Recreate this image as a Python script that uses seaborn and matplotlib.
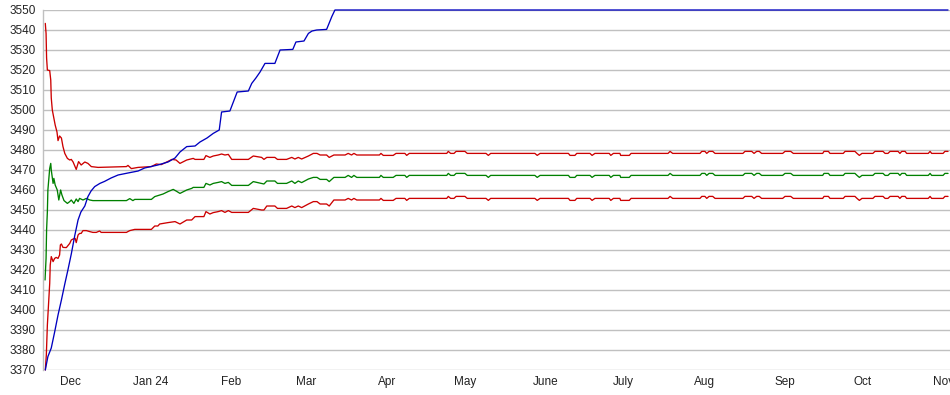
import matplotlib
matplotlib.use("Agg")
import matplotlib.pyplot as plt
import seaborn as sns
import pandas as pd
import numpy as np

# ---------------- data (day offsets from start date) ----------------
start_date = "2023-11-21"

month_starts = ["2023-12-01", "2024-01-01", "2024-02-01", "2024-03-01", "2024-04-01",
                "2024-05-01", "2024-06-01", "2024-07-01", "2024-08-01", "2024-09-01",
                "2024-10-01", "2024-11-01"]
month_labels = ["Dec", "Jan 24", "Feb", "Mar", "Apr", "May", "June", "July", "Aug",
                "Sep", "Oct", "Nov"]
y_ticks = [3370, 3380, 3390, 3400, 3410, 3420, 3430, 3440, 3450, 3460,
           3470, 3480, 3490, 3500, 3510, 3520, 3530, 3540, 3550]

blue_days = [0.5, 1.5, 2.8, 4.1, 5.4, 6.7, 8.0, 9.2, 10.5, 11.8, 13.1, 14.2, 15.7, 16.9,
             18.1, 19.5, 21.5, 23.3, 25.8, 28.5, 32.3, 36.2, 38.7, 43.8, 47.7, 50.4, 52.3,
             54.9, 58.1, 60.0, 62.7, 65.1, 67.4, 68.3, 71.5, 74.3, 78.6, 79.9, 81.5, 83.1,
             85.0, 88.8, 90.8, 95.7, 96.9, 100.0, 101.7, 103.1, 104.9, 108.7, 110.7, 111.9,
             347.7]
blue_vals = [3370, 3376.7, 3381, 3389, 3397.5, 3405, 3413, 3420, 3428, 3437, 3445, 3449,
             3452, 3456.7, 3459.5, 3461.7, 3463.3, 3464.3, 3466, 3467.5, 3468.5, 3469.5,
             3471, 3472.5, 3474, 3476, 3479, 3481.7, 3482, 3484, 3486, 3488.3, 3490, 3499,
             3499.5, 3509, 3509.5, 3513.3, 3516, 3519, 3523.3, 3523.3, 3530, 3530.3, 3534,
             3534.5, 3538.3, 3539.5, 3540, 3540.3, 3546.7, 3550, 3550]

upper_early_days = [0.5, 0.8, 1.0, 1.3, 2.2, 2.6, 2.8, 3.2, 3.7, 4.3, 5.0, 5.4, 6.0, 6.7,
                    7.3, 8.0, 9.0, 9.9, 10.5, 11.2, 12.4, 13.3, 14.3, 15.7, 16.9, 18.2,
                    20.8, 31.7, 32.3, 33.6, 36.2, 41.3, 43.2, 45.1, 47.7, 49.2, 50.8, 52.3,
                    54.9, 57.4, 58.1, 61.5]
upper_early_vals = [3543.3, 3538.3, 3526, 3520, 3519.7, 3515, 3506, 3500, 3496.7, 3492.5,
                    3489, 3484.7, 3487, 3486, 3481.7, 3478.3, 3475.8, 3475, 3475.3, 3474,
                    3470.3, 3474.2, 3472.5, 3474, 3473.3, 3471.7, 3471.3, 3471.7, 3472.3,
                    3470.7, 3471.3, 3471.7, 3473, 3472.7, 3474.3, 3475.3, 3475, 3473.3,
                    3475, 3475.8, 3475.3, 3475.3]

green_early_days = [0.4, 0.8, 1.0, 1.3, 1.5, 2.2, 2.6, 2.8, 3.5, 3.8, 4.3, 5.1, 5.7, 6.4,
                    6.9, 7.7, 9.0, 9.9, 10.5, 11.5, 12.4, 13.1, 13.7, 15.0, 16.3, 17.6,
                    18.8, 31.7, 33.0, 34.2, 34.9, 41.3, 42.6, 44.5, 45.8, 47.7, 49.7, 50.8,
                    52.3, 54.9, 56.8, 57.4, 61.5]
green_early_vals = [3415, 3425.8, 3440, 3449.2, 3460, 3470.8, 3473.3, 3470, 3463.3, 3465.8,
                    3462.5, 3460, 3455, 3460, 3457.5, 3454.7, 3453.3, 3454.2, 3455, 3453.3,
                    3455.5, 3454.2, 3455.8, 3455, 3455.8, 3455, 3454.7, 3454.7, 3455.7,
                    3454.7, 3455.3, 3455.3, 3456.7, 3457.5, 3458, 3459.2, 3460.3, 3459.5,
                    3458.3, 3460, 3460.8, 3461.3, 3461.3]

lower_early_days = [0.5, 0.9, 1.3, 1.8, 2.2, 2.4, 2.8, 3.5, 4.1, 4.7, 5.4, 6.0, 6.3, 6.7,
                    7.3, 8.6, 9.9, 10.5, 11.2, 12.0, 12.4, 13.1, 13.7, 14.3, 15.0, 16.3,
                    17.6, 18.8, 20.1, 21.4, 22.0, 31.7, 33.0, 34.9, 41.3, 42.6, 43.8, 44.5,
                    45.8, 47.7, 50.4, 52.3, 54.9, 56.8, 58.1, 61.5]
lower_early_vals = [3370, 3377.5, 3392.5, 3404, 3413.3, 3422.5, 3426.7, 3424.2, 3425.8,
                    3426.3, 3425.8, 3427.5, 3432.5, 3433, 3431.3, 3431.2, 3433.3, 3435,
                    3435.5, 3435.8, 3433.7, 3437.5, 3438.3, 3438.3, 3439.7, 3439.7, 3439.2,
                    3438.8, 3438.8, 3439.5, 3438.8, 3438.8, 3439.7, 3440.3, 3440.3, 3442,
                    3442, 3443, 3443.3, 3443.7, 3444.2, 3443, 3445, 3445, 3446.7, 3446.7]

late_days = [62.3, 63.8, 65.1, 67.0, 68.3, 69.6, 70.9, 72.2, 78.6, 80.5, 83.7, 84.6, 85.7,
             88.8, 89.8, 93.3, 95.3, 96.5, 97.8, 99.1, 101.7, 103.6, 105.0, 106.2, 108.7,
             109.7, 111.5, 115.8, 117.0, 118.3, 119.2, 120.3, 129.0,
             129.6, 130.5, 134.3, 135.4, 138.8, 139.5, 140.5, 154.9, 155.5, 156.4,
             157.7, 158.5, 161.9, 162.8, 170.0, 170.9, 171.8, 188.8, 189.7, 190.8,
             201.7, 202.3, 204.2, 204.9, 210.0, 210.8, 211.9, 217.4, 218.0, 219.0,
             221.5, 221.8, 225.1, 225.8, 240.0, 240.8, 241.8, 252.3, 253.0, 254.2,
             254.9, 255.8, 257.2, 258.1, 268.8, 269.6, 272.2, 273.1, 274.1, 275.1,
             276.0, 284.1, 285.0, 287.2, 288.2, 299.5, 300.0, 301.7, 302.3, 307.4,
             308.1, 311.9, 312.7, 313.6, 314.6, 318.8, 319.6, 322.7, 323.5, 324.6,
             325.4, 328.5, 329.2, 329.9, 331.2, 331.8, 340.1, 340.8, 341.4, 345.8,
             346.5, 347.7]

upper_late_vals = [3477.2, 3476.3, 3477.0, 3477.5, 3478.0, 3477.5, 3477.8, 3475.3, 3475.3,
                   3477.0, 3476.3, 3475.3, 3476.3, 3476.3, 3475.3, 3475.3, 3476.3, 3475.5,
                   3476.3, 3475.5, 3477.0, 3478.3, 3478.3, 3477.5, 3477.5, 3476.3, 3477.5,
                   3477.5, 3478.3, 3477.5, 3478.3, 3477.5, 3477.5,
                   3478.3, 3477.3, 3477.3, 3478.3, 3478.3, 3477.3, 3478.3, 3478.3, 3479.3, 3478.3,
                   3478.3, 3479.3, 3479.3, 3478.3, 3478.3, 3477.3, 3478.3, 3478.3, 3477.3, 3478.3,
                   3478.3, 3477.3, 3477.3, 3478.3, 3478.3, 3477.3, 3478.3, 3478.3, 3477.3, 3478.3,
                   3478.3, 3477.3, 3477.3, 3478.3, 3478.3, 3479.3, 3478.3, 3478.3, 3479.3, 3479.3,
                   3478.3, 3479.3, 3479.3, 3478.3, 3478.3, 3479.3, 3479.3, 3478.3, 3479.3, 3479.3,
                   3478.3, 3478.3, 3479.3, 3479.3, 3478.3, 3478.3, 3479.3, 3479.3, 3478.3, 3478.3,
                   3479.3, 3479.3, 3478.3, 3477.3, 3478.3, 3478.3, 3479.3, 3479.3, 3478.3, 3478.3,
                   3479.3, 3479.3, 3478.3, 3479.3, 3479.3, 3478.3, 3478.3, 3479.3, 3478.3, 3478.3,
                   3479.3, 3479.3]

green_late_vals = [3463.3, 3462.5, 3463.3, 3463.8, 3464.2, 3463.3, 3463.8, 3462.3, 3462.3,
                   3464.2, 3463.3, 3463.0, 3464.5, 3464.5, 3463.3, 3463.3, 3464.5, 3463.3,
                   3464.5, 3463.7, 3465.5, 3466.3, 3466.3, 3465.3, 3465.3, 3464.2, 3466.3,
                   3466.3, 3467.3, 3466.3, 3467.3, 3466.3, 3466.3,
                   3467.3, 3466.3, 3466.3, 3467.3, 3467.3, 3466.3, 3467.3, 3467.3, 3468.3, 3467.3,
                   3467.3, 3468.3, 3468.3, 3467.3, 3467.3, 3466.3, 3467.3, 3467.3, 3466.3, 3467.3,
                   3467.3, 3466.3, 3466.3, 3467.3, 3467.3, 3466.3, 3467.3, 3467.3, 3466.3, 3467.3,
                   3467.3, 3466.3, 3466.3, 3467.3, 3467.3, 3468.3, 3467.3, 3467.3, 3468.3, 3468.3,
                   3467.3, 3468.3, 3468.3, 3467.3, 3467.3, 3468.3, 3468.3, 3467.3, 3468.3, 3468.3,
                   3467.3, 3467.3, 3468.3, 3468.3, 3467.3, 3467.3, 3468.3, 3468.3, 3467.3, 3467.3,
                   3468.3, 3468.3, 3467.3, 3466.3, 3467.3, 3467.3, 3468.3, 3468.3, 3467.3, 3467.3,
                   3468.3, 3468.3, 3467.3, 3468.3, 3468.3, 3467.3, 3467.3, 3468.3, 3467.3, 3467.3,
                   3468.3, 3468.3]

lower_late_vals = [3449.2, 3448.0, 3448.7, 3449.2, 3449.7, 3448.8, 3449.7, 3448.8, 3448.8,
                   3450.8, 3450.0, 3450.0, 3452.0, 3452.0, 3450.8, 3450.8, 3452.0, 3451.2,
                   3452.0, 3451.2, 3453.0, 3454.2, 3454.2, 3453.0, 3453.0, 3452.0, 3455.0,
                   3455.0, 3455.8, 3455.0, 3455.8, 3455.0, 3455.0,
                   3455.8, 3454.8, 3454.8, 3455.8, 3455.8, 3454.8, 3455.8, 3455.8, 3456.8, 3455.8,
                   3455.8, 3456.8, 3456.8, 3455.8, 3455.8, 3454.8, 3455.8, 3455.8, 3454.8, 3455.8,
                   3455.8, 3454.8, 3454.8, 3455.8, 3455.8, 3454.8, 3455.8, 3455.8, 3454.8, 3455.8,
                   3455.8, 3454.8, 3454.8, 3455.8, 3455.8, 3456.8, 3455.8, 3455.8, 3456.8, 3456.8,
                   3455.8, 3456.8, 3456.8, 3455.8, 3455.8, 3456.8, 3456.8, 3455.8, 3456.8, 3456.8,
                   3455.8, 3455.8, 3456.8, 3456.8, 3455.8, 3455.8, 3456.8, 3456.8, 3455.8, 3455.8,
                   3456.8, 3456.8, 3455.8, 3454.8, 3455.8, 3455.8, 3456.8, 3456.8, 3455.8, 3455.8,
                   3456.8, 3456.8, 3455.8, 3456.8, 3456.8, 3455.8, 3455.8, 3456.8, 3455.8, 3455.8,
                   3456.8, 3456.8]

# ---------------- figure ----------------
sns.set_style("white")
plt.rcParams["font.family"] = ["Liberation Sans", "DejaVu Sans"]

W, H = 950, 395
fig = plt.figure(figsize=(W / 100, H / 100), dpi=100)
ax = fig.add_axes([43 / W, (H - 370) / H, 907 / W, 360 / H])

base = pd.Timestamp(start_date)


def to_dates(days):
    return base + pd.to_timedelta(np.asarray(days, dtype=float), unit="D")


series = [
    ("upper", upper_early_days + late_days, upper_early_vals + upper_late_vals, "#cc0000"),
    ("lower", lower_early_days + late_days, lower_early_vals + lower_late_vals, "#cc0000"),
    ("middle", green_early_days + late_days, green_early_vals + green_late_vals, "#008000"),
    ("blue", blue_days, blue_vals, "#0000c0"),
]

for name, d, v, c in series:
    df = pd.DataFrame({"date": to_dates(d), "value": v})
    sns.lineplot(data=df, x="date", y="value", ax=ax, color=c, linewidth=0.95,
                 estimator=None, sort=False, legend=False)

for line in ax.get_lines():
    line.set_clip_on(False)

ax.set_xlim(base + pd.Timedelta(days=-0.38), base + pd.Timedelta(days=348.46))
ax.set_ylim(3370, 3550)
ax.set_yticks(y_ticks)
ax.set_yticklabels([str(t) for t in y_ticks])
ax.set_xticks(pd.to_datetime(month_starts))
ax.set_xticklabels(month_labels)
ax.set_xlabel("")
ax.set_ylabel("")

ax.grid(axis="y", color="#c0c0c0", linewidth=1.0)
ax.grid(axis="x", visible=False)
ax.set_axisbelow(True)
for s in ["top", "right", "bottom"]:
    ax.spines[s].set_visible(False)
ax.spines["left"].set_color("#c0c0c0")
ax.spines["left"].set_linewidth(1.0)
ax.tick_params(axis="both", length=0, labelsize=8.5, colors="#222222")
ax.tick_params(axis="y", pad=5)
ax.tick_params(axis="x", pad=4)
for lab in ax.get_xticklabels() + ax.get_yticklabels():
    lab.set_clip_on(False)

fig.savefig("out.png", dpi=100)
